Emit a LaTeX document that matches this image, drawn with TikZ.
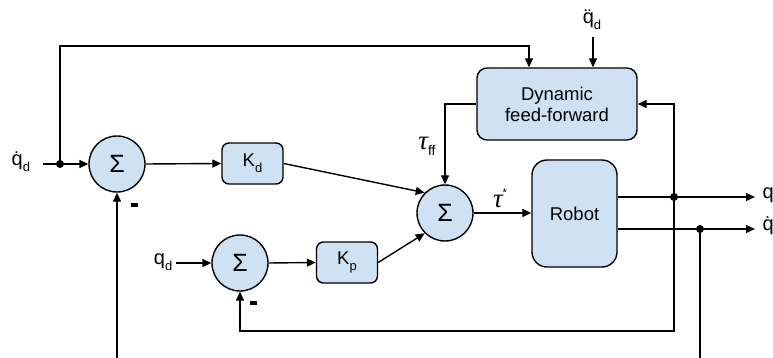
\documentclass[tikz,border=0pt]{standalone}
\usepackage{fontspec}
\setmainfont{Liberation Sans}
\newfontfamily\taufont{Liberation Serif}
\usetikzlibrary{arrows.meta}
\definecolor{blockblue}{HTML}{CFE2F3}
\newcommand\mysub[2][-6pt]{\raisebox{#1}{\fontsize{13}{13}\selectfont #2}}
\newcommand\tauit{{\taufont\itshape\fontsize{27}{27}\selectfont τ}}
\begin{document}
\begin{tikzpicture}[x=1pt,y=-1pt,
  line width=1.4pt,
  blk/.style={draw, fill=blockblue, rounded corners=7pt, inner sep=0pt, font=\fontsize{18.5}{22}\selectfont},
  sumnode/.style={draw, circle, fill=blockblue, minimum size=56pt, inner sep=0pt, font=\fontsize{25}{25}\selectfont},
  arr/.style={-{Triangle[length=9pt,width=8pt]}},
  dotnode/.style={circle, fill=black, inner sep=0pt, minimum size=8pt},
  lab/.style={font=\fontsize{20}{20}\selectfont, inner sep=0pt},
  minus/.style={inner sep=0pt}
]
\useasboundingbox (0,0) rectangle (773,358);

% blocks
\node[sumnode] (s1) at (117,164) {Σ};
\node[sumnode] (s2) at (240,263) {Σ};
\node[sumnode] (s3) at (445,213) {Σ};
\node[blk, minimum width=61pt, minimum height=41pt] (kd) at (252.5,163.5) {K\mysub[-6pt]{d}};
\node[blk, minimum width=61pt, minimum height=41pt] (kp) at (347,262.5) {K\mysub[-6pt]{p}};
\node[blk, minimum width=160pt, minimum height=72pt, align=center, rounded corners=10pt] (dyn) at (557,104) {Dynamic\\[-1pt]feed-forward};
\node[blk, minimum width=85pt, minimum height=107pt, rounded corners=15pt] (robot) at (574.5,213.5) {Robot};

% labels
\node[lab, anchor=mid west] (lqdd) at (11,163) {\.{q}\mysub{d}};
\node[lab, anchor=mid east] (lqd) at (173,262) {q\mysub{d}};
\node[lab] (lqddd) at (592,20) {\"{q}\mysub{d}};
\node[lab] (ltff) at (427,146) {\tauit\mysub[-6pt]{\fontsize{14}{14}\selectfont ff}};
\node[lab] (ltst) at (500,198) {\tauit\raisebox{11pt}{\fontsize{11}{11}\selectfont *}};
\node[lab, anchor=mid west] (lq) at (762,196) {q};
\node[lab, anchor=mid west] (lqdot) at (762,228) {\.{q}};
\node[minus] (m1) at (134,205) {\rule{7pt}{3.5pt}};
\node[minus] (m2) at (253,303) {\rule{7pt}{3.5pt}};

% coordinates
\coordinate (in1) at (43,164);
\coordinate (c1) at (60,46);
\coordinate (ffin) at ([xshift=-28pt]dyn.north);
\coordinate (ddtop) at (593,37);
\coordinate (ddin) at ([xshift=36pt]dyn.north);
\coordinate (qdin) at (176,263);
\coordinate (rq) at ([yshift=16.5pt]robot.east);
\coordinate (rqd) at ([yshift=-15.5pt]robot.east);
\coordinate (qout) at (755,197);
\coordinate (qdout) at (755,229);
\coordinate (fb) at (674,331);
\coordinate (b1) at (117,358);
\coordinate (b2) at (700,358);

\node[dotnode] (d1) at (60,164) {};
\node[dotnode] (d2) at (674,197) {};
\node[dotnode] (d3) at (700,229) {};

% connectors
\draw[arr] (in1) -- (s1.west);
\draw[arr] (d1.center) -- (c1) -| (ffin);
\draw[arr] (ddtop) -- (ddin);
\draw[arr] (s1.east) -- (kd.west);
\draw[arr] (kd.east) -- (s3.135);
\draw[arr] (qdin) -- (s2.west);
\draw[arr] (s2.east) -- (kp.west);
\draw[arr] (kp.east) -- (s3.225);
\draw[arr] (dyn.west) -| (s3.north);
\draw[arr] (s3.east) -- (s3.east -| robot.west);
\draw[arr] (rq) -- (qout);
\draw[arr] (rqd) -- (qdout);
\draw[arr] (d2.center) |- (dyn.east);
\draw[arr] (d2.center) -- (fb) -| (s2.south);
\draw (d3.center) -- (b2);
\draw[arr] (b1) -- (s1.south);
\end{tikzpicture}
\end{document}
